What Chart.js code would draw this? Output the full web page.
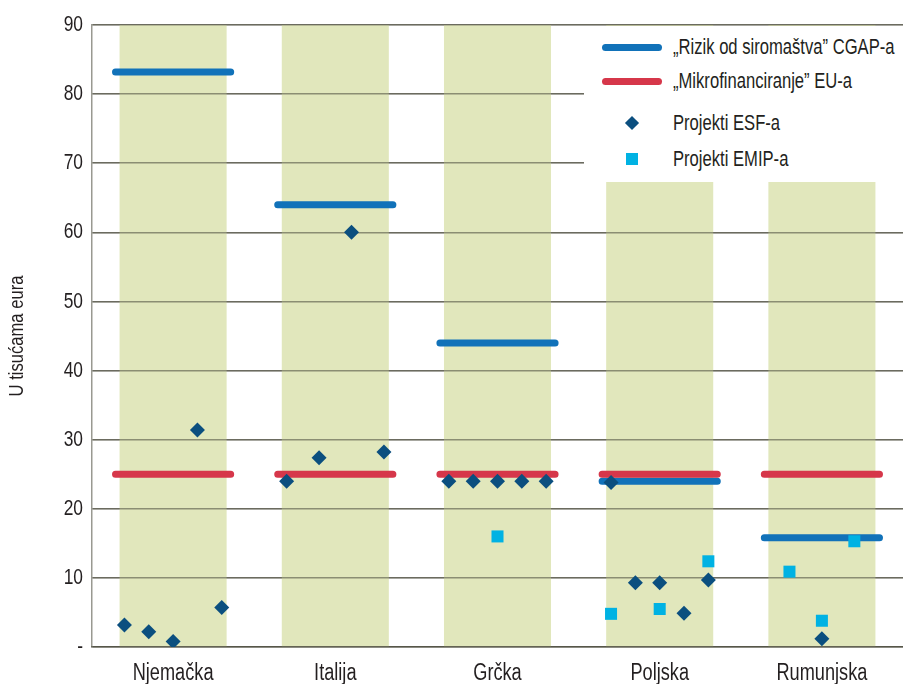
<!DOCTYPE html>
<html>
<head>
<meta charset="utf-8">
<script src="https://cdn.jsdelivr.net/npm/chart.js@4/dist/chart.umd.min.js"></script>
<style>
  body { margin: 0; background: #fff; }
  #wrap { position: relative; width: 903px; height: 684px; }
  #legend {
    position: absolute; left: 584px; top: 26px; width: 319px; height: 156px;
    background: #fff; font-family: 'Liberation Sans', Arial, sans-serif;
    font-size: 22px; color: #231f20; overflow: hidden;
  }
  .item { position: absolute; left: 0; height: 30px; width: 319px; }
  .item span {
    position: absolute; left: 89px; top: 50%; white-space: nowrap;
    transform: translateY(-50%) scaleX(0.755); transform-origin: left center;
  }
  .swatch-line { position: absolute; left: 18px; width: 60px; height: 7px; top: 50%; margin-top: -3.5px; border-radius: 4px; }
  .swatch-diamond { position: absolute; left: 43px; width: 10px; height: 10px; top: 50%; margin-top: -5px; transform: rotate(45deg); }
  .swatch-square { position: absolute; left: 42px; width: 12px; height: 12px; top: 50%; margin-top: -6px; }
</style>
</head>
<body>
<div id="wrap">
  <canvas id="chart" width="903" height="684"></canvas>
  <div id="legend">
    <div class="item" style="top:6px"><div class="swatch-line" style="background:#1172b9"></div><span>„Rizik od siromaštva” CGAP-a</span></div>
    <div class="item" style="top:40px"><div class="swatch-line" style="background:#d6374a"></div><span>„Mikrofinanciranje” EU-a</span></div>
    <div class="item" style="top:82px"><div class="swatch-diamond" style="background:#0b4f7f"></div><span>Projekti ESF-a</span></div>
    <div class="item" style="top:118px"><div class="swatch-square" style="background:#00b2e3"></div><span>Projekti EMIP-a</span></div>
  </div>
</div>
<script>
const categories = ['Njemačka', 'Italija', 'Grčka', 'Poljska', 'Rumunjska'];
const bandTop = [90, 90, 90, 90, 90];
const cgapValues = [83.2, 64, 44, 24, 15.8];   // "Rizik od siromaštva" CGAP
const euValues = [25, 25, 25, 25, 25];         // "Mikrofinanciranje" EU
// ESF projects, per country
const esfValues = [
    [3.2, 2.2, 0.8, 31.4, 5.7],
    [24.0, 27.4, 60, 28.2],
    [24, 24, 24, 24, 24],
    [23.8, 9.3, 9.3, 4.9, 9.7],
    [1.2]
];
// EMIP projects, per country
const emipValues = [
    [],
    [],
    [16],
    [4.8, 5.5, 12.4],
    [10.9, 3.8, 15.3]
];
const yTicks = [0, 10, 20, 30, 40, 50, 60, 70, 80, 90];

const fontFamily = "'Liberation Sans', Arial, sans-serif";
const textColor = '#231f20';
const gridColor = 'rgba(70, 70, 55, 0.55)';
const textSqueeze = 0.79; // no condensed font installed, so squeeze the text horizontally

// spread points evenly across the band of their country
const spreadPoints = (groups, spreads) => {
    const pts = [];
    groups.forEach((vals, i) => {
        const n = vals.length;
        const s = spreads[i];
        vals.forEach((v, j) => {
            const off = n > 1 ? -s / 2 + s * j / (n - 1) : 0;
            pts.push({ x: i + off, y: v });
        });
    });
    return pts;
};

// short horizontal segment per country
const segments = (vals, half) => {
    const pts = [];
    vals.forEach((v, i) => {
        pts.push({ x: i - half, y: v }, { x: i + half, y: v }, { x: i + 0.5, y: null });
    });
    return pts;
};

// redraw the y grid over the green bands
const gridOverBands = {
    id: 'gridOverBands',
    afterDatasetDraw(chart, args) {
        if (args.index === 0) {
            chart.scales.y.drawGrid(chart.chartArea);
        }
    }
};

// condensed look for canvas text
const squeezeText = {
    id: 'squeezeText',
    beforeInit(chart) {
        const ctx = chart.ctx;
        const fill = ctx.fillText.bind(ctx);
        ctx.fillText = (text, x, y) => {
            ctx.save();
            ctx.translate(x, y);
            ctx.scale(textSqueeze, 1);
            fill(text, 0, 0);
            ctx.restore();
        };
    }
};

new Chart(document.getElementById('chart'), {
    data: {
        labels: categories,
        datasets: [
            {
                type: 'bar',
                data: bandTop,
                backgroundColor: '#e1e7bc',
                barPercentage: 0.66,
                categoryPercentage: 1,
                grouped: false,
                xAxisID: 'x',
                order: 10
            },
            {
                type: 'line',
                data: segments(cgapValues, 0.355),
                borderColor: '#1172b9',
                borderWidth: 7,
                borderCapStyle: 'round',
                pointRadius: 0,
                spanGaps: false,
                xAxisID: 'x2',
                order: 5
            },
            {
                type: 'line',
                data: segments(euValues, 0.355),
                borderColor: '#d6374a',
                borderWidth: 7,
                borderCapStyle: 'round',
                pointRadius: 0,
                spanGaps: false,
                xAxisID: 'x2',
                order: 4
            },
            {
                type: 'scatter',
                data: spreadPoints(emipValues, [0.6, 0.6, 0.6, 0.6, 0.4]),
                pointStyle: 'rect',
                pointRadius: 8.5,
                backgroundColor: '#00b2e3',
                borderWidth: 0,
                xAxisID: 'x2',
                order: 2
            },
            {
                type: 'scatter',
                data: spreadPoints(esfValues, [0.6, 0.6, 0.6, 0.6, 0.6]),
                pointStyle: 'rectRot',
                pointRadius: 7.5,
                backgroundColor: '#0b4f7f',
                borderWidth: 0,
                xAxisID: 'x2',
                order: 1
            }
        ]
    },
    options: {
        responsive: false,
        animation: false,
        layout: { autoPadding: false, padding: { top: 25, right: 0, left: 0, bottom: 0 } },
        plugins: { legend: { display: false }, tooltip: { enabled: false } },
        scales: {
            x: {
                type: 'category',
                offset: true,
                grid: { display: false },
                border: { display: true, color: gridColor, width: 1.5 },
                ticks: { color: textColor, font: { family: fontFamily, size: 23 }, padding: 5, autoSkip: false, maxRotation: 0 },
                afterFit: (scale) => {
                    scale.height = 37;
                    scale.paddingLeft = 0;
                    scale.paddingRight = 0;
                }
            },
            x2: {
                type: 'linear',
                display: false,
                min: -0.5,
                max: 4.5
            },
            y: {
                min: 0,
                max: 90,
                afterBuildTicks: (scale) => { scale.ticks = yTicks.map(v => ({ value: v })); },
                grid: { color: gridColor, lineWidth: 1.5, drawTicks: false },
                border: { display: true, color: gridColor, width: 1.5 },
                ticks: {
                    color: textColor,
                    font: { family: fontFamily, size: 22 },
                    padding: 9,
                    callback: (v) => v === 0 ? '-' : v
                },
                title: {
                    display: true,
                    text: 'U tisućama eura',
                    color: textColor,
                    font: { family: fontFamily, size: 21 },
                    padding: { top: 5, bottom: 0 }
                },
                afterFit: (scale) => { scale.width = 92; }
            }
        }
    },
    plugins: [gridOverBands, squeezeText]
});
</script>
</body>
</html>
